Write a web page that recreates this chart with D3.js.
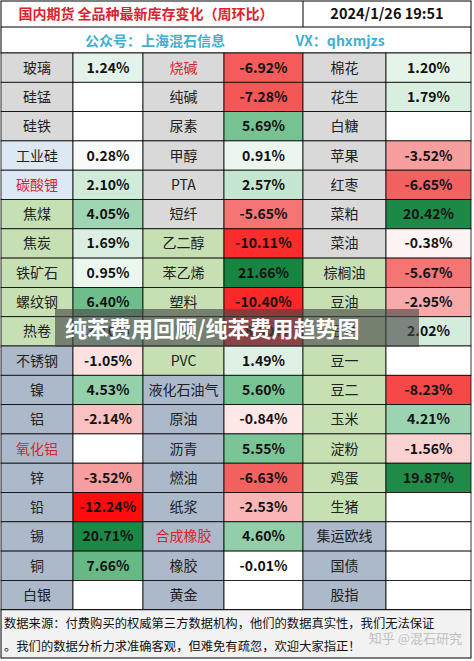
<!DOCTYPE html>
<html>
<head>
<meta charset="utf-8">
<script src="https://d3js.org/d3.v7.min.js"></script>
<style>
  body { margin: 0; background: #fff; }
  text { font-family: "Noto Sans CJK SC", "Noto Sans", sans-serif; }
</style>
</head>
<body>
<svg id="chart" width="474" height="661"></svg>
<script>
// three column groups: name + weekly inventory change (%), null = no data
var names1 = ["玻璃","硅锰","硅铁","工业硅","碳酸锂","焦煤","焦炭","铁矿石","螺纹钢","热卷","不锈钢","镍","铝","氧化铝","锌","铅","锡","铜","白银"];
var vals1  = [1.24,null,null,0.28,2.10,4.05,1.69,0.95,6.40,3.10,-1.05,4.53,-2.14,null,-3.52,-12.24,20.71,7.66,null];
var names2 = ["烧碱","纯碱","尿素","甲醇","PTA","短纤","乙二醇","苯乙烯","塑料","PP","PVC","液化石油气","原油","沥青","燃油","纸浆","合成橡胶","橡胶","黄金"];
var vals2  = [-6.92,-7.28,5.69,0.91,2.57,-5.65,-10.11,21.66,-10.40,-8.50,1.49,5.60,-0.84,5.55,-6.63,-2.53,4.60,-0.01,null];
var names3 = ["棉花","花生","白糖","苹果","红枣","菜粕","菜油","棕榈油","豆油","豆粕","豆一","豆二","玉米","淀粉","鸡蛋","生猪","集运欧线","国债","股指"];
var vals3  = [1.20,1.79,null,-3.52,-6.65,20.42,-0.38,-5.67,-2.95,2.02,null,-8.23,4.21,-1.56,19.87,null,null,null,null];
var redNames = ["烧碱","碳酸锂","氧化铝","合成橡胶"];
// name cell groups: g = gray, b = light blue, c = green, s = slate
var group1 = "gggbbcccccsssssssss".split("");
var group2 = "ggggggcccccssssssss".split("");
var group3 = "gggggggcccccccccsss".split("");

var svg = d3.select("#chart");
var W = 471, top0 = 53, rowH = 29.3, nRows = names1.length;
var colX = [1, 73, 143, 224, 303, 386, 471];
var nameFill = {g: "#d9d9d9", b: "#dde8f5", c: "#c6e0b4", s: "#acb9ca"};
var valColor = d3.scaleLinear()
  .domain([-12, -7, -3, 0, 2, 6, 21])
  .range(["#ff1010", "#f45a5a", "#f8a8a8", "#ffffff", "#d3ecdb", "#6fbf8d", "#1a8744"]);
var y = d3.scaleBand().domain(d3.range(nRows)).range([top0, top0 + rowH * nRows]);

// header
svg.append("rect").attr("x", 1).attr("y", 1).attr("width", W - 1).attr("height", 52)
  .attr("fill", "#fff").attr("stroke", "#000");
svg.append("line").attr("x1", 1).attr("x2", W).attr("y1", 27).attr("y2", 27).attr("stroke", "#000");
svg.append("line").attr("x1", 303).attr("x2", 303).attr("y1", 1).attr("y2", 27).attr("stroke", "#000");
svg.append("text").attr("x", 146).attr("y", 19).attr("text-anchor", "middle")
  .attr("font-size", 14).attr("font-weight", "bold").attr("fill", "#d9232e")
  .text("国内期货 全品种最新库存变化（周环比）");
svg.append("text").attr("x", 387).attr("y", 19).attr("text-anchor", "middle")
  .attr("font-size", 14.5).attr("font-weight", "bold").attr("fill", "#111")
  .text("2024/1/26 19:51");
svg.append("text").attr("x", 155).attr("y", 46).attr("text-anchor", "middle")
  .attr("font-size", 14).attr("font-weight", "bold").attr("fill", "#3fb0d0")
  .text("公众号：上海混石信息");
svg.append("text").attr("x", 340).attr("y", 46).attr("text-anchor", "middle")
  .attr("font-size", 14).attr("font-weight", "bold").attr("fill", "#3fb0d0")
  .text("VX：qhxmjzs");

var cols = [[names1, vals1, group1], [names2, vals2, group2], [names3, vals3, group3]];
cols.forEach(function(c, ci) {
  var xn = colX[ci * 2], xv = colX[ci * 2 + 1], xe = colX[ci * 2 + 2];
  var g = svg.append("g");
  var rows = g.selectAll("g").data(d3.range(nRows)).join("g")
    .attr("transform", function(i) { return "translate(0," + y(i) + ")"; });
  rows.append("rect").attr("x", xn).attr("width", xv - xn).attr("height", y.bandwidth())
    .attr("fill", function(i) { return nameFill[c[2][i]]; }).attr("stroke", "#000").attr("stroke-width", 0.8);
  rows.append("rect").attr("x", xv).attr("width", xe - xv).attr("height", y.bandwidth())
    .attr("fill", function(i) { return c[1][i] == null ? "#fff" : valColor(c[1][i]); })
    .attr("stroke", "#000").attr("stroke-width", 0.8);
  rows.append("text").attr("x", (xn + xv) / 2).attr("y", y.bandwidth() / 2 + 5)
    .attr("text-anchor", "middle").attr("font-size", 14)
    .attr("fill", function(i) { return redNames.indexOf(c[0][i]) >= 0 ? "#d9232e" : "#222"; })
    .text(function(i) { return c[0][i]; });
  rows.append("text").attr("x", (xv + xe) / 2).attr("y", y.bandwidth() / 2 + 5)
    .attr("text-anchor", "middle").attr("font-size", 14).attr("font-weight", "bold").attr("fill", "#111")
    .text(function(i) { return c[1][i] == null ? "" : c[1][i].toFixed(2) + "%"; });
});

// footer
var fy = top0 + rowH * nRows;
svg.append("rect").attr("x", 1).attr("y", fy).attr("width", W - 1).attr("height", 658 - fy)
  .attr("fill", "#f2f2f2").attr("stroke", "#000");
svg.append("text").attr("x", 4).attr("y", fy + 18).attr("font-size", 12.3).attr("fill", "#111")
  .text("数据来源：付费购买的权威第三方数据机构，他们的数据真实性，我们无法保证");
svg.append("text").attr("x", 4).attr("y", fy + 41).attr("font-size", 12.3).attr("fill", "#111")
  .text("。我们的数据分析力求准确客观，但难免有疏忽，欢迎大家指正！");
svg.append("text").attr("x", 462).attr("y", fy + 33).attr("text-anchor", "end")
  .attr("font-size", 13).attr("fill", "#bbb").attr("opacity", 0.9).text("知乎 @混石研究");

// overlay banner
svg.append("rect").attr("x", 55).attr("y", 309).attr("width", 364).attr("height", 38)
  .attr("fill", "rgba(70,70,70,0.62)");
svg.append("text").attr("x", 65).attr("y", 337).attr("font-size", 22).attr("font-weight", "bold")
  .attr("fill", "#fff").text("纯苯费用回顾/纯苯费用趋势图");
</script>
</body>
</html>
